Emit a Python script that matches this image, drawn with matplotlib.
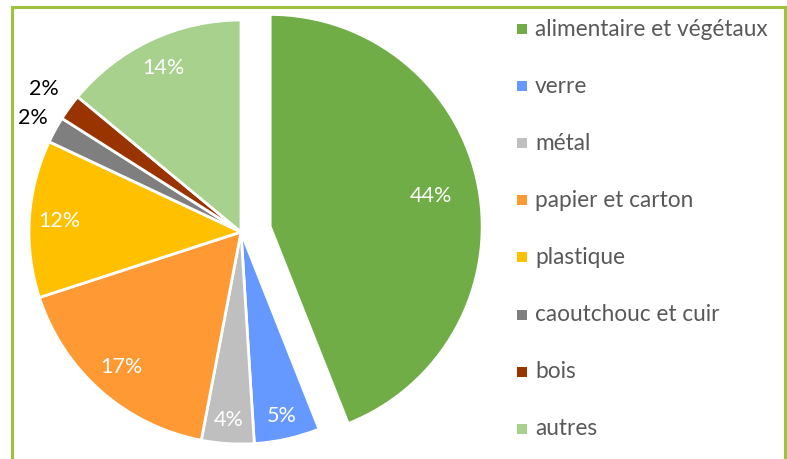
import numpy as np
import matplotlib
matplotlib.use("Agg")
import matplotlib.pyplot as plt
from matplotlib.patches import Rectangle

categories = ["alimentaire et végétaux", "verre", "métal", "papier et carton",
              "plastique", "caoutchouc et cuir", "bois", "autres"]
shares = [44, 5, 4, 17, 12, 2, 2, 14]
colors = ["#70AD47", "#6699FF", "#BFBFBF", "#FF9933",
          "#FFC000", "#7F7F7F", "#993300", "#A9D18E"]

# label placement (fraction of radius) and colour
label_dist = [0.77, 0.89, 0.89, 0.85, 0.86, 1.12, 1.15, 0.855]
label_col = ["white"] * 5 + ["black", "black", "white"]
explode = [0.14, 0, 0, 0, 0, 0, 0, 0]

plt.rcParams["font.family"] = ["Lato", "DejaVu Sans"]

W, H = 787, 459
fig = plt.figure(figsize=(W / 100, H / 100), dpi=100)

# pie centre (241, 232) px, radius 212 px
lim = 1.2
size = 2 * 212 * lim
cx, cy = 241, H - 232
ax = fig.add_axes([(cx - size / 2) / W, (cy - size / 2) / H, size / W, size / H])
wedges, _ = ax.pie(shares, colors=colors, startangle=90, counterclock=False,
                   explode=explode, radius=1,
                   wedgeprops=dict(edgecolor="white", linewidth=2))
ax.set_xlim(-lim, lim)
ax.set_ylim(-lim, lim)
ax.set_aspect("equal")
ax.axis("off")

for w, v, d, c in zip(wedges, shares, label_dist, label_col):
    ang = np.deg2rad((w.theta1 + w.theta2) / 2)
    x0, y0 = w.center
    ax.text(x0 + d * np.cos(ang), y0 + d * np.sin(ang), f"{v}%",
            ha="center", va="center", color=c, fontsize=15.5)

# legend
row_y = 29
for name, col in zip(categories, colors):
    fig.add_artist(Rectangle((517 / W, (H - row_y - 5) / H), 10 / W, 10 / H,
                             transform=fig.transFigure, facecolor=col,
                             edgecolor="none"))
    fig.text(535 / W, (H - row_y) / H, name, ha="left", va="center",
             color="#595959", fontsize=16.3)
    row_y += 57.1

# outer frame
fig.add_artist(Rectangle((12 / W, -0.05), (785 - 12) / W, (H - 7) / H + 0.05,
                         transform=fig.transFigure, facecolor="none",
                         edgecolor="#9DC23C", linewidth=2.2, zorder=10))

fig.savefig("out.png", dpi=100)
